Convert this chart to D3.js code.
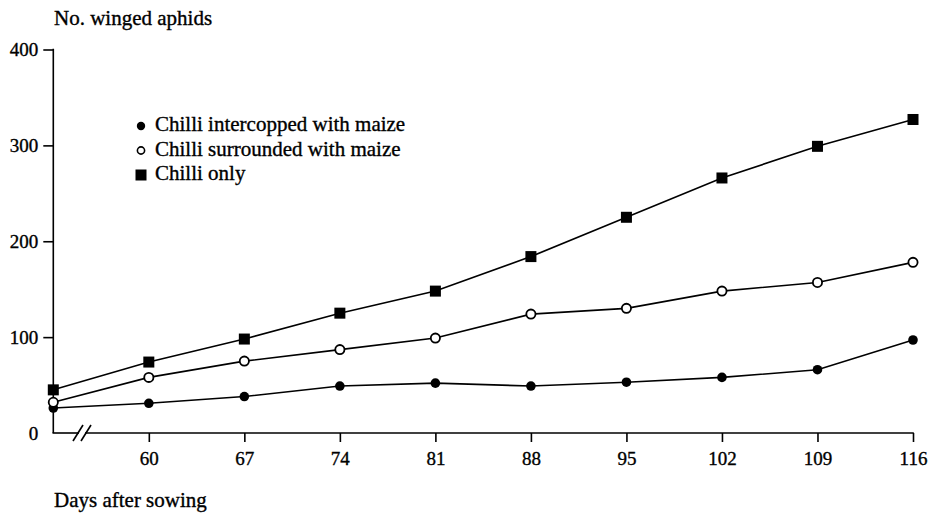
<!DOCTYPE html>
<html>
<head>
<meta charset="utf-8">
<script src="https://cdn.jsdelivr.net/npm/d3@7"></script>
<style>
    body { margin: 0; background: #fff; }
    svg text { font-family: 'Liberation Serif', 'DejaVu Serif', serif; fill: #000; stroke: #000; stroke-width: 0.35; }
</style>
</head>
<body>
<svg id="chart" width="932" height="515"></svg>
<script>
// Дни после посева (первая точка стоит на оси, до разрыва)
const days = [53, 60, 67, 74, 81, 88, 95, 102, 109, 116]
const xTicks = [60, 67, 74, 81, 88, 95, 102, 109, 116]
const yTicks = [0, 100, 200, 300, 400]

const intercropped = [26, 31, 38, 49, 52, 49, 53, 58, 66, 97]
const surrounded = [32, 58, 75, 87, 99, 124, 130, 148, 157, 178]
const chilliOnly = [45, 74, 98, 125, 148, 184, 225, 266, 299, 327]

const series = [
    { name: 'Chilli intercopped with maize', values: intercropped, marker: 'filled' },
    { name: 'Chilli surrounded with maize', values: surrounded, marker: 'open' },
    { name: 'Chilli only', values: chilliOnly, marker: 'square' },
]

const svg = d3.select('#chart')

const x = d3.scaleLinear().domain([53, 116]).range([53.3, 913])
const y = d3.scaleLinear().domain([0, 400]).range([433, 49.5])

// Ось Y
const yAxis = svg.append('g')
    .attr('transform', `translate(${x(53)},0)`)
    .call(d3.axisLeft(y).tickValues(yTicks).tickSize(10).tickPadding(5).tickFormat(d3.format('d')))
yAxis.select('.domain').remove()
yAxis.selectAll('.tick line').attr('stroke', '#000').attr('stroke-width', 1.6)
    .filter(d => d === 0).remove()
yAxis.selectAll('.tick text').attr('font-size', 19).attr('font-family', 'Liberation Serif')

svg.append('line')
    .attr('x1', x(53)).attr('x2', x(53))
    .attr('y1', y(400) - 0.8).attr('y2', y(0))
    .attr('stroke', '#000').attr('stroke-width', 1.6)

// Ось X с разрывом
const xAxis = svg.append('g')
    .attr('transform', `translate(0,${y(0)})`)
    .call(d3.axisBottom(x).tickValues(xTicks).tickSize(9).tickPadding(10).tickFormat(d3.format('d')))
xAxis.select('.domain').remove()
xAxis.selectAll('.tick line').attr('stroke', '#000').attr('stroke-width', 1.6)
xAxis.selectAll('.tick text').attr('font-size', 19).attr('font-family', 'Liberation Serif')

const y0 = y(0)
svg.append('line')
    .attr('x1', x(53) - 0.8).attr('x2', 79).attr('y1', y0).attr('y2', y0)
    .attr('stroke', '#000').attr('stroke-width', 1.6)
svg.append('line')
    .attr('x1', 85).attr('x2', x(116) + 0.8).attr('y1', y0).attr('y2', y0)
    .attr('stroke', '#000').attr('stroke-width', 1.6)
;[75, 83].forEach(bx => {
    svg.append('line')
        .attr('x1', bx - 2).attr('y1', y0 + 8)
        .attr('x2', bx + 8).attr('y2', y0 - 8)
        .attr('stroke', '#000').attr('stroke-width', 1.6)
})

// Линии серий
const line = d3.line()
    .x((d, i) => x(days[i]))
    .y(d => y(d))

series.forEach(s => {
    svg.append('path')
        .attr('d', line(s.values))
        .attr('fill', 'none')
        .attr('stroke', '#000')
        .attr('stroke-width', 1.6)
})

function drawMarker(g, type, cx, cy) {
    if (type === 'filled') {
        g.append('circle').attr('cx', cx).attr('cy', cy).attr('r', 4.8).attr('fill', '#000')
    } else if (type === 'open') {
        g.append('circle').attr('cx', cx).attr('cy', cy).attr('r', 4.6)
            .attr('fill', '#fff').attr('stroke', '#000').attr('stroke-width', 1.8)
    } else {
        g.append('rect').attr('x', cx - 5.5).attr('y', cy - 5.5)
            .attr('width', 11).attr('height', 11).attr('fill', '#000')
    }
}

const markers = svg.append('g')
series.forEach(s => {
    s.values.forEach((v, i) => drawMarker(markers, s.marker, x(days[i]), y(v)))
})

// Легенда
const legend = svg.append('g').attr('transform', 'translate(141,126)')
series.forEach((s, i) => {
    const row = legend.append('g').attr('transform', `translate(0,${i * 24.5})`)
    if (s.marker === 'square') drawMarker(row, s.marker, 0, 0)
    else if (s.marker === 'open') {
        row.append('circle').attr('r', 3.6).attr('fill', '#fff')
            .attr('stroke', '#000').attr('stroke-width', 1.6)
    } else row.append('circle').attr('r', 4.2).attr('fill', '#000')
    row.append('text')
        .attr('x', 14).attr('y', 5)
        .attr('font-size', 21)
        .text(s.name)
})

// Подписи осей
svg.append('text').attr('x', 54).attr('y', 25).attr('font-size', 21).text('No. winged aphids')
svg.append('text').attr('x', 54).attr('y', 507).attr('font-size', 21).text('Days after sowing')
</script>
</body>
</html>
